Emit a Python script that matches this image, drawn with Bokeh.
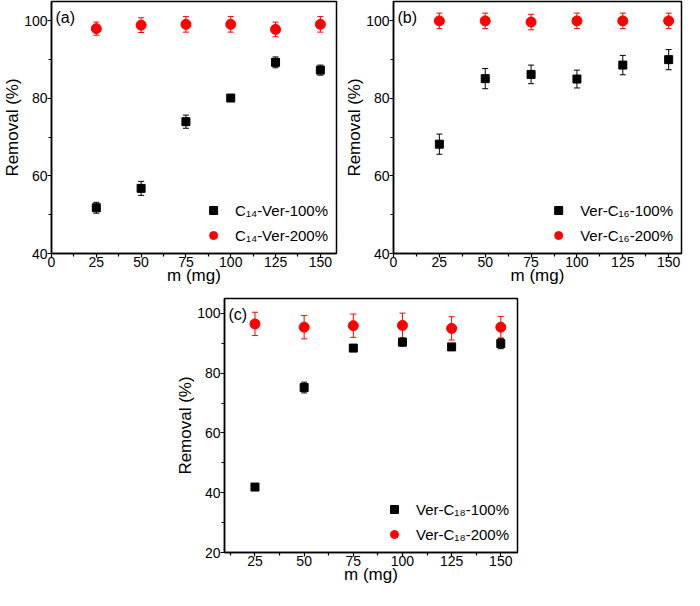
from bokeh.plotting import figure
from bokeh.models import (ColumnDataSource, Whisker, TeeHead, FixedTicker, Legend,
                          LegendItem, Label, Range1d, Spacer)
from bokeh.layouts import column, row
from bokeh.embed import file_html
from bokeh.resources import INLINE

# ---- data ----
m = [25, 50, 75, 100, 125, 150]

a_100 = [51.8, 56.8, 74.0, 80.1, 89.3, 87.3]
a_100_err = [1.4, 1.8, 1.7, 0.8, 1.4, 1.3]
a_200 = [98.0, 98.9, 99.1, 99.1, 97.8, 99.1]
a_200_err = [1.7, 1.9, 2.0, 2.0, 1.9, 2.0]

b_100 = [68.2, 85.1, 86.2, 85.0, 88.6, 90.0]
b_100_err = [2.6, 2.6, 2.4, 2.3, 2.5, 2.6]
b_200 = [100.0, 100.0, 99.7, 100.0, 100.0, 100.0]
b_200_err = [2.0, 2.0, 2.0, 2.0, 2.0, 2.0]

c_100 = [41.9, 75.2, 88.4, 90.4, 88.8, 89.9]
c_100_err = [0.5, 1.8, 0.9, 1.3, 1.0, 1.7]
c_200 = [96.5, 95.4, 95.9, 96.0, 95.0, 95.4]
c_200_err = [3.9, 3.9, 3.9, 4.1, 3.9, 3.6]

labels_a = ["C\u2081\u2084-Ver-100%", "C\u2081\u2084-Ver-200%"]
labels_b = ["Ver-C\u2081\u2086-100%", "Ver-C\u2081\u2086-200%"]
labels_c = ["Ver-C\u2081\u2088-100%", "Ver-C\u2081\u2088-200%"]

FONT = "Liberation Sans"


def panel(tag, ser1, err1, ser2, err2, labels, xr, yr, xticks, xminor, yticks, yminor,
          width, height, bl, br, bt, bb):
    p = figure(width=width, height=height, x_range=Range1d(*xr), y_range=Range1d(*yr),
               output_backend="svg", toolbar_location=None,
               min_border_left=bl, min_border_right=br, min_border_top=bt, min_border_bottom=bb)
    p.grid.visible = False
    p.outline_line_color = "black"
    p.outline_line_width = 1.5
    p.background_fill_color = "white"

    p.xaxis.ticker = FixedTicker(ticks=xticks, minor_ticks=xminor)
    p.yaxis.ticker = FixedTicker(ticks=yticks, minor_ticks=yminor)
    for ax in (p.xaxis[0], p.yaxis[0]):
        ax.axis_line_width = 1.5
        ax.axis_line_color = "black"
        ax.major_tick_out = 4
        ax.major_tick_in = 0
        ax.minor_tick_out = 3
        ax.minor_tick_in = 0
        ax.major_tick_line_width = 1.2
        ax.minor_tick_line_width = 1.2
        ax.major_label_text_font = FONT
        ax.major_label_text_font_size = "14px"
        ax.major_label_text_color = "black"
        ax.axis_label_text_font = FONT
        ax.axis_label_text_font_size = "17px"
        ax.axis_label_text_font_style = "normal"
        ax.axis_label_text_color = "black"
    p.xaxis.major_label_standoff = -1
    p.xaxis.axis_label_standoff = -4
    p.yaxis.major_label_standoff = 0
    p.yaxis.axis_label_standoff = -1
    p.xaxis.axis_label = "m (mg)"
    p.yaxis.axis_label = "Removal (%)"

    s1 = ColumnDataSource(dict(x=m, y=ser1,
                               lo=[v - e for v, e in zip(ser1, err1)],
                               hi=[v + e for v, e in zip(ser1, err1)]))
    s2 = ColumnDataSource(dict(x=m, y=ser2,
                               lo=[v - e for v, e in zip(ser2, err2)],
                               hi=[v + e for v, e in zip(ser2, err2)]))
    for src, col in ((s1, "black"), (s2, "red")):
        w = Whisker(source=src, base="x", lower="lo", upper="hi", line_color=col,
                    line_width=1,
                    upper_head=TeeHead(size=6, line_color=col, line_width=1),
                    lower_head=TeeHead(size=6, line_color=col, line_width=1))
        p.add_layout(w)

    r1 = p.scatter("x", "y", source=s1, marker="square", size=8,
                   fill_color="black", line_color="black")
    r2 = p.scatter("x", "y", source=s2, marker="circle", size=10,
                   fill_color="red", line_color="red")

    leg = Legend(items=[LegendItem(label=labels[0], renderers=[r1]),
                        LegendItem(label=labels[1], renderers=[r2])],
                 location="bottom_right")
    leg.background_fill_alpha = 0
    leg.border_line_alpha = 0
    leg.label_text_font = FONT
    leg.label_text_font_size = "15px"
    leg.label_text_color = "black"
    leg.glyph_width = 20
    leg.glyph_height = 20
    leg.label_standoff = 12
    leg.spacing = 5
    leg.padding = 3
    leg.margin = 5
    p.add_layout(leg)

    p.add_layout(Label(x=xr[0], y=yr[1], x_offset=4, y_offset=-7, text=tag,
                       text_baseline="top", text_font=FONT, text_font_size="16px",
                       text_color="black"))
    return p


pa = panel("(a)", a_100, a_100_err, a_200, a_200_err, labels_a,
           (0, 159), (40, 105),
           [0, 25, 50, 75, 100, 125, 150], [12.5, 37.5, 62.5, 87.5, 112.5, 137.5],
           [40, 60, 80, 100], [50, 70, 90],
           342, 291, 44, 6, 1, 38)

pb = panel("(b)", b_100, b_100_err, b_200, b_200_err, labels_b,
           (0, 157), (40, 105),
           [0, 25, 50, 75, 100, 125, 150], [12.5, 37.5, 62.5, 87.5, 112.5, 137.5],
           [40, 60, 80, 100], [50, 70, 90],
           342, 291, 50, 3, 1, 38)

pc = panel("(c)", c_100, c_100_err, c_200, c_200_err, labels_c,
           (9.5, 158.5), (20, 105),
           [25, 50, 75, 100, 125, 150], [12.5, 37.5, 62.5, 87.5, 112.5, 137.5],
           [20, 40, 60, 80, 100], [30, 50, 70, 90],
           350, 299, 48, 6, 7, 38)

layout = column(row(pa, pb), row(Spacer(width=173, height=299), pc))

open("out.html", "w").write(file_html(layout, INLINE))
